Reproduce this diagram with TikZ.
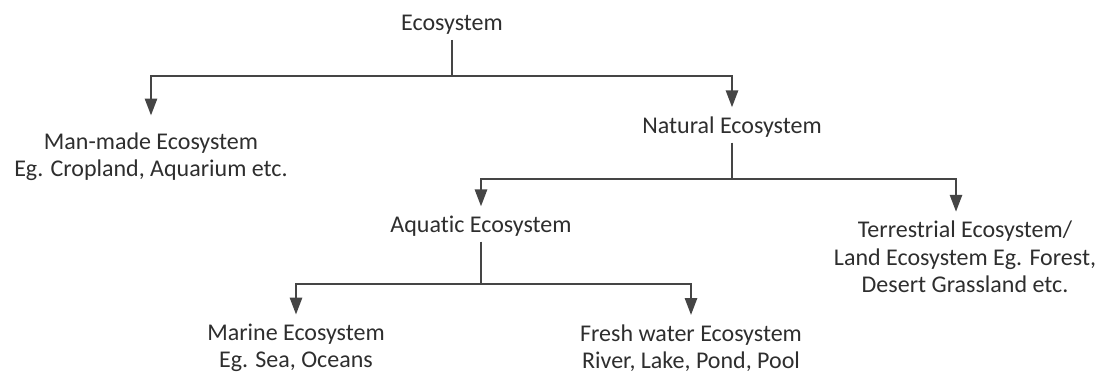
\documentclass[tikz,border=0pt]{standalone}
\usepackage{fontspec}
\setmainfont[Ligatures=NoCommon]{Carlito}
\usetikzlibrary{arrows.meta}
\definecolor{inkgray}{rgb}{0.27,0.27,0.27}
\definecolor{textgray}{rgb}{0.18,0.18,0.18}

\begin{document}
\begin{tikzpicture}[
    x=0.5pt, y=-0.5pt,
    font=\fontsize{12}{13.7}\selectfont,
    >={Triangle[width=6pt,length=8.5pt]},
    line width=1.35pt,
    color=inkgray,
    box/.style={align=center, inner sep=2pt, text=textgray},
    link/.style={->, shorten >=2pt}
  ]
  \useasboundingbox (0,0) rectangle (1107,379);

  % root
  \node[box] (eco) at (452,25) {Ecosystem};
  \coordinate (j1) at (452,76);

  % first level
  \node[box] (man) at (151,157) {Man-made Ecosystem\\Eg. Cropland, Aquarium etc.};
  \node[box] (nat) at (732,127) {Natural Ecosystem};
  \draw (eco) -- (j1);
  \draw[link, shorten >=6pt] (j1) -| (man);
  \draw[link] (j1) -| (nat);

  % natural ecosystems
  \coordinate (j2) at (732,179);
  \node[box] (aqu) at (481,226) {Aquatic Ecosystem};
  \node[box] (ter) at (965,257) {Terrestrial Ecosystem/\\Land Ecosystem Eg. Forest,\\Desert Grassland etc.};
  \draw (nat) -- (j2);
  \draw[link] (j2) -| (aqu);
  \draw[link] (j2) -| ([xshift=-4.5pt]ter.north);

  % aquatic ecosystems
  \coordinate (j3) at (481,284);
  \node[box] (mar) at (296,348) {Marine Ecosystem\\Eg. Sea, Oceans};
  \node[box] (fre) at (691,348) {Fresh water Ecosystem\\River, Lake, Pond, Pool};
  \draw (aqu) -- (j3);
  \draw[link] (j3) -| (mar);
  \draw[link] (j3) -| (fre);
\end{tikzpicture}
\end{document}
